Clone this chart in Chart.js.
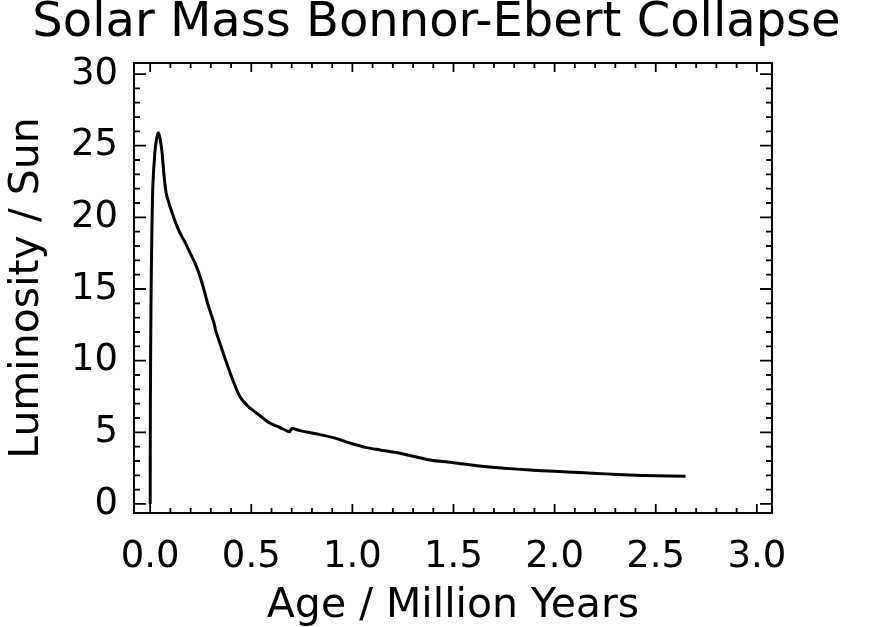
<!DOCTYPE html>
<html>
<head>
<meta charset="utf-8">
<script src="https://cdn.jsdelivr.net/npm/chart.js@4.4.1/dist/chart.umd.min.js"></script>
<style>
  html, body { margin: 0; padding: 0; background: #fff; }
  #wrap { width: 873px; height: 627px; }
</style>
</head>
<body>
<div id="wrap"><canvas id="chart" width="873" height="627"></canvas></div>
<script>
// Idade (milhões de anos) e luminosidade (em unidades solares)
const ages = [0.0, 0.001, 0.004, 0.008, 0.013, 0.023, 0.032, 0.041, 0.05, 0.059, 0.068, 0.079,
  0.095, 0.115, 0.135, 0.157, 0.178, 0.198, 0.222, 0.247, 0.265, 0.28, 0.3, 0.316, 0.324,
  0.35, 0.379, 0.41, 0.444, 0.485, 0.527, 0.593, 0.64, 0.678, 0.69, 0.70, 0.741, 0.82,
  0.905, 1.0, 1.07, 1.136, 1.235, 1.383, 1.5, 1.63, 1.75, 1.877, 2.0, 2.123, 2.25, 2.37,
  2.5, 2.647];
const luminosity = [0.0, 7.0, 14.0, 18.5, 22.1, 24.5, 25.5, 25.9, 25.4, 24.5, 23.0, 21.7,
  20.9, 20.05, 19.3, 18.65, 18.1, 17.5, 16.8, 15.86, 15.0, 14.2, 13.3, 12.6, 12.1,
  11.0, 9.8, 8.6, 7.49, 6.8, 6.33, 5.63, 5.35, 5.09, 5.05, 5.26, 5.12, 4.9,
  4.63, 4.2, 3.93, 3.77, 3.54, 3.07, 2.88, 2.65, 2.5, 2.37, 2.28, 2.19, 2.1, 2.02,
  1.97, 1.93];

const xTicks = [0.0, 0.5, 1.0, 1.5, 2.0, 2.5, 3.0];
const yTicks = [0, 5, 10, 15, 20, 25, 30];

const FONT = 'DejaVu Sans';

// Moldura com marcas para dentro nos quatro lados (estilo IDL)
const frameTicks = {
  id: 'frameTicks',
  afterDatasetsDraw(chart) {
    const { ctx, chartArea: a, scales } = chart;
    const xs = scales.x, ys = scales.y;
    ctx.save();
    ctx.strokeStyle = '#000';
    ctx.lineWidth = 2;
    ctx.strokeRect(a.left, a.top, a.right - a.left, a.bottom - a.top);
    ctx.lineWidth = 1.8;
    ctx.beginPath();
    for (let i = -1; i <= 31; i++) {
      const v = i / 10;
      if (v < xs.min || v > xs.max) continue;
      const px = xs.getPixelForValue(v);
      const len = (i % 5 === 0) ? 9 : 5;
      ctx.moveTo(px, a.bottom); ctx.lineTo(px, a.bottom - len);
      ctx.moveTo(px, a.top); ctx.lineTo(px, a.top + len);
    }
    for (let v = 0; v <= 30; v++) {
      const py = ys.getPixelForValue(v);
      const len = (v % 5 === 0) ? 12 : 6;
      ctx.moveTo(a.left, py); ctx.lineTo(a.left + len, py);
      ctx.moveTo(a.right, py); ctx.lineTo(a.right - len, py);
    }
    ctx.stroke();
    ctx.restore();
  }
};

new Chart(document.getElementById('chart'), {
  type: 'line',
  data: {
    datasets: [{
      data: ages.map((t, i) => ({ x: t, y: luminosity[i] })),
      borderColor: '#000',
      borderWidth: 3,
      pointRadius: 0,
      tension: 0.3,
      fill: false
    }]
  },
  options: {
    responsive: false,
    animation: false,
    layout: { padding: 0 },
    plugins: {
      legend: { display: false },
      tooltip: { enabled: false },
      title: {
        display: true,
        text: 'Solar Mass Bonnor-Ebert Collapse',
        color: '#000',
        font: { family: FONT, size: 48, weight: 'normal', lineHeight: 1 },
        padding: { top: 0, bottom: 15 }
      }
    },
    scales: {
      x: {
        type: 'linear',
        min: -0.08,
        max: 3.075,
        afterBuildTicks: s => { s.ticks = xTicks.map(v => ({ value: v })); },
        afterFit: s => { s.height = 114; },
        grid: { display: false, drawTicks: false },
        border: { display: false },
        ticks: {
          color: '#000',
          padding: 22,
          maxRotation: 0,
          font: { family: FONT, size: 37 },
          callback: v => Number(v).toFixed(1)
        },
        title: {
          display: true,
          text: 'Age / Million Years',
          color: '#000',
          font: { family: FONT, size: 41, lineHeight: 1 },
          padding: { top: 0, bottom: 0 }
        }
      },
      y: {
        type: 'linear',
        min: -0.63,
        max: 30.77,
        afterBuildTicks: s => { s.ticks = yTicks.map(v => ({ value: v })); },
        afterFit: s => { s.width = 134; },
        grid: { display: false, drawTicks: false },
        border: { display: false },
        ticks: {
          color: '#000',
          padding: 16,
          font: { family: FONT, size: 37 }
        },
        title: {
          display: true,
          text: 'Luminosity / Sun',
          color: '#000',
          font: { family: FONT, size: 41, lineHeight: 1 },
          padding: { top: 7, bottom: 0 }
        }
      },
      spacer: {
        type: 'linear',
        position: 'right',
        display: true,
        afterFit: s => { s.width = 101; },
        grid: { display: false, drawTicks: false },
        border: { display: false },
        ticks: { display: false }
      }
    }
  },
  plugins: [frameTicks]
});
</script>
</body>
</html>
